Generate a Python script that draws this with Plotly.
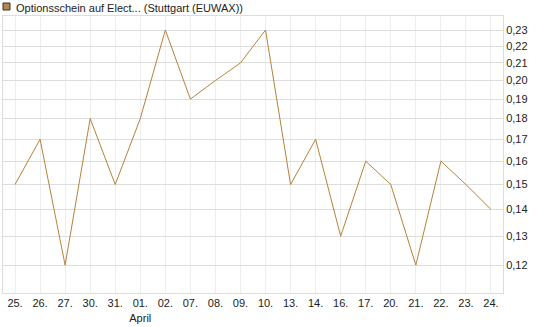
import plotly.graph_objects as go

dates = ["25.", "26.", "27.", "30.", "31.", "01.", "02.", "07.", "08.", "09.",
         "10.", "13.", "14.", "16.", "17.", "20.", "21.", "22.", "23.", "24."]
values = [0.15, 0.17, 0.12, 0.18, 0.15, 0.18, 0.23, 0.19, 0.20, 0.21,
          0.23, 0.15, 0.17, 0.13, 0.16, 0.15, 0.12, 0.16, 0.15, 0.14]
tick_labels = [d if d != "01." else "01.<br>April" for d in dates]
y_ticks = [0.12, 0.13, 0.14, 0.15, 0.16, 0.17, 0.18, 0.19, 0.20, 0.21, 0.22, 0.23]
legend_text = "Optionsschein auf Elect... (Stuttgart (EUWAX))"

line_color = "#B5823A"
x_idx = list(range(len(dates)))

fig = go.Figure()
fig.add_trace(go.Scatter(x=x_idx, y=values, mode="lines",
                         line=dict(color=line_color, width=1), showlegend=False))

font = dict(family="Liberation Sans, Arial, sans-serif", size=11, color="#222222")

fig.update_layout(
    width=545, height=327,
    margin=dict(l=3, r=42, t=16, b=34),
    paper_bgcolor="white", plot_bgcolor="white",
    separators=",.",
    font=font,
    xaxis=dict(
        tickmode="array", tickvals=x_idx, ticktext=tick_labels,
        range=[-0.48, 19.48],
        showgrid=True, gridcolor="#eeeeee", gridwidth=1,
        showline=True, linecolor="#dddddd", linewidth=1, mirror=True,
        ticks="", zeroline=False, tickfont=font,
    ),
    yaxis=dict(
        type="log", side="right",
        range=[-0.9543, -0.6214],
        tickmode="array", tickvals=y_ticks,
        ticktext=[f"{v:.2f}".replace(".", ",") for v in y_ticks],
        showgrid=True, gridcolor="#dddddd", gridwidth=1,
        showline=True, linecolor="#dddddd", linewidth=1, mirror=True,
        ticks="", zeroline=False, tickfont=font,
    ),
)

fig.add_shape(type="rect", xref="paper", yref="paper",
              x0=0.0, x1=7/500, y0=1 + 6/277, y1=1 + 13/277,
              fillcolor="#B5884E", line=dict(color="#333333", width=1))
fig.add_annotation(xref="paper", yref="paper", x=11/500, y=1 + 8.5/277,
                   text=legend_text, showarrow=False, xanchor="left", yanchor="middle",
                   font=font)

fig.write_html("out.html")
